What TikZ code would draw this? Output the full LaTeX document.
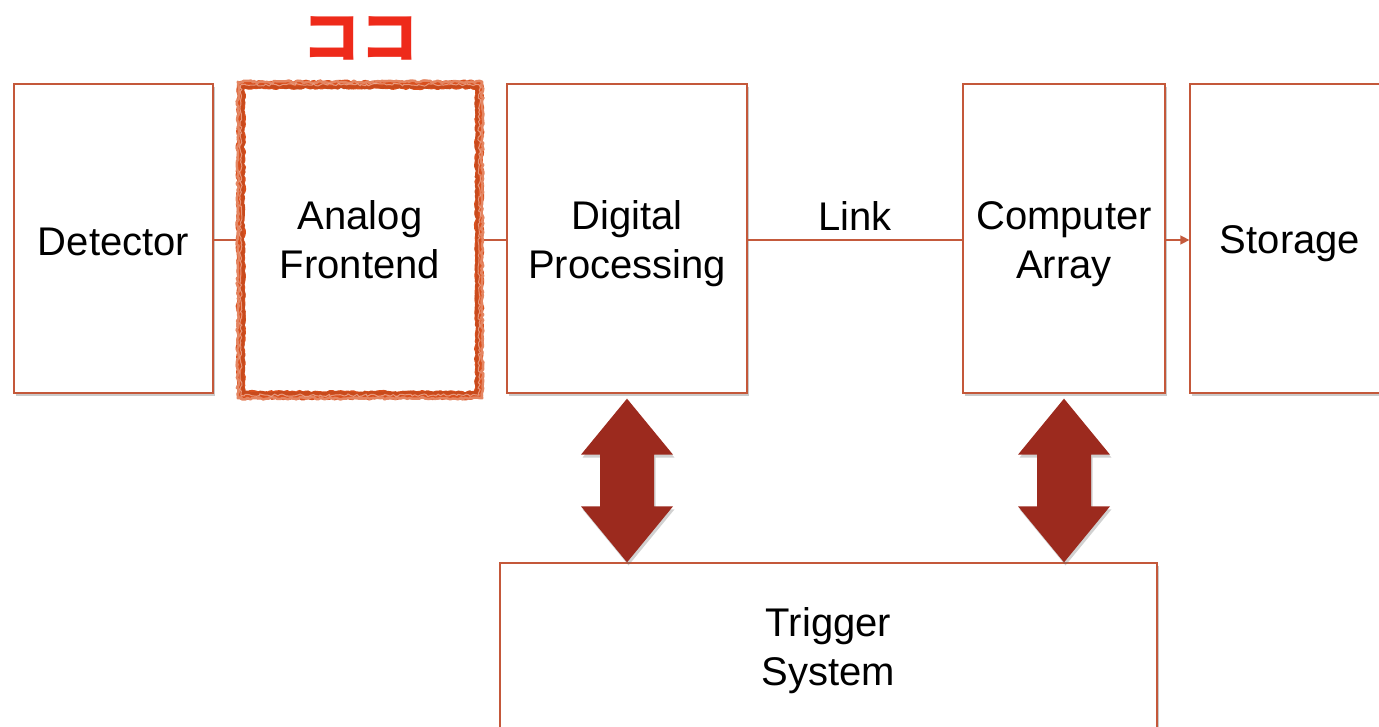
\documentclass[tikz,border=0pt]{standalone}
\usepackage{fontspec}
\setmainfont{Liberation Sans}
\newfontfamily\cjk{Noto Sans CJK JP}
\usetikzlibrary{shadows,decorations.pathmorphing,calc,arrows.meta}
\definecolor{boxline}{HTML}{C4583A}
\definecolor{wire}{HTML}{C45A3C}
\definecolor{bigarrow}{HTML}{9C2A1E}
\definecolor{markline}{HTML}{D9501E}
\definecolor{markred}{HTML}{EE2A1A}
\tikzset{
  bigtext/.style={font=\fontsize{40}{49}\selectfont, align=center, inner sep=0pt},
  block/.style={draw=boxline, line width=1.3pt, fill=white, inner sep=0pt,
    drop shadow={opacity=0.35, shadow xshift=1.5pt, shadow yshift=-3pt, fill=black!60}},
  caption/.style 2 args={label={[bigtext, yshift=-#1]center:#2}},
  wire/.style={draw=wire, line width=1.5pt},
  rough/.style={draw=markline, line width=#1, line join=round, line cap=round, decorate,
    decoration={random steps, segment length=2.5pt, amplitude=1.3pt}},
  dualarrow/.style={fill=bigarrow,
    drop shadow={opacity=0.3, shadow xshift=1.5pt, shadow yshift=-3pt, fill=black!60}}
}
\begin{document}
\begin{tikzpicture}[x=1pt,y=-1pt]
\useasboundingbox (0,0) rectangle (1379,727);
\clip (0,0) rectangle (1379,727);

% main signal chain
\node[block, minimum width=199pt, minimum height=309pt, caption={3pt}{Detector}] (det) at (113.5,238.5) {};
\node[block, minimum width=240pt, minimum height=309pt, caption={5pt}{Digital\\Processing}] (dig) at (627,238.5) {};
\node[block, minimum width=202pt, minimum height=309pt, caption={6pt}{Computer\\Array}] (cpu) at (1064,238.5) {};
\node[block, minimum width=200pt, minimum height=309pt, caption={5pt}{Storage}] (sto) at (1290,238.5) {};
\node[block, minimum width=657pt, minimum height=170pt, caption={3pt}{Trigger\\System}] (trg) at (828.5,648) {};

% analog frontend with hand-drawn highlight frame
\node[bigtext, fill=white, minimum width=238pt, minimum height=310pt] (afe) at (360,240) {Analog\\Frontend};
\begin{scope}
  \pgfmathsetseed{7}
  \draw[rough=8pt] (afe.north west) rectangle (afe.south east);
  \pgfmathsetseed{23}
  \draw[rough=3pt, markline!92!black] ($(afe.north west)+(2,2)$) rectangle ($(afe.south east)+(-2,-2)$);
  \pgfmathsetseed{41}
  \draw[rough=2.5pt, markline!70!white] ($(afe.north west)+(-3,-3)$) rectangle ($(afe.south east)+(3,3)$);
  \pgfmathsetseed{57}
  \draw[rough=1pt, markline!40!white, opacity=0.7] (afe.north west) rectangle (afe.south east);
\end{scope}
\node[font=\cjk\bfseries\fontsize{58}{58}\selectfont, text=markred, inner sep=0pt]
  (mark) at (360,38) {ココ};

% connecting lines
\coordinate (afeL) at ($(afe.west)+(-5,0)$);
\coordinate (afeR) at ($(afe.east)+(5,0)$);
\draw[wire] (det.east |- afeL) -- (afeL);
\draw[wire] (afeR) -- (dig.west |- afeR);
\draw[wire] (dig.east |- afeR) -- node[above=9pt, bigtext, text=black] (lnk) {Link} (cpu.west |- afeR);
\draw[wire, -{Triangle[length=9pt, width=9pt]}] (cpu.east |- afeR) -- (sto.west |- afeR);

% bidirectional arrows to the trigger system
\foreach \up/\nm in {dig/a, cpu/b} {
  \coordinate (\nm T) at ($(\up.south)+(0,5)$);
  \coordinate (\nm B) at (\nm T |- trg.north);
  \fill[dualarrow] (\nm T) -- ($(\nm T)+(46,56)$) -- ($(\nm T)+(27,56)$)
    -- ($(\nm B)+(27,-56)$) -- ($(\nm B)+(46,-56)$) -- (\nm B)
    -- ($(\nm B)+(-46,-56)$) -- ($(\nm B)+(-27,-56)$)
    -- ($(\nm T)+(-27,56)$) -- ($(\nm T)+(-46,56)$) -- cycle;
}
\end{tikzpicture}
\end{document}
